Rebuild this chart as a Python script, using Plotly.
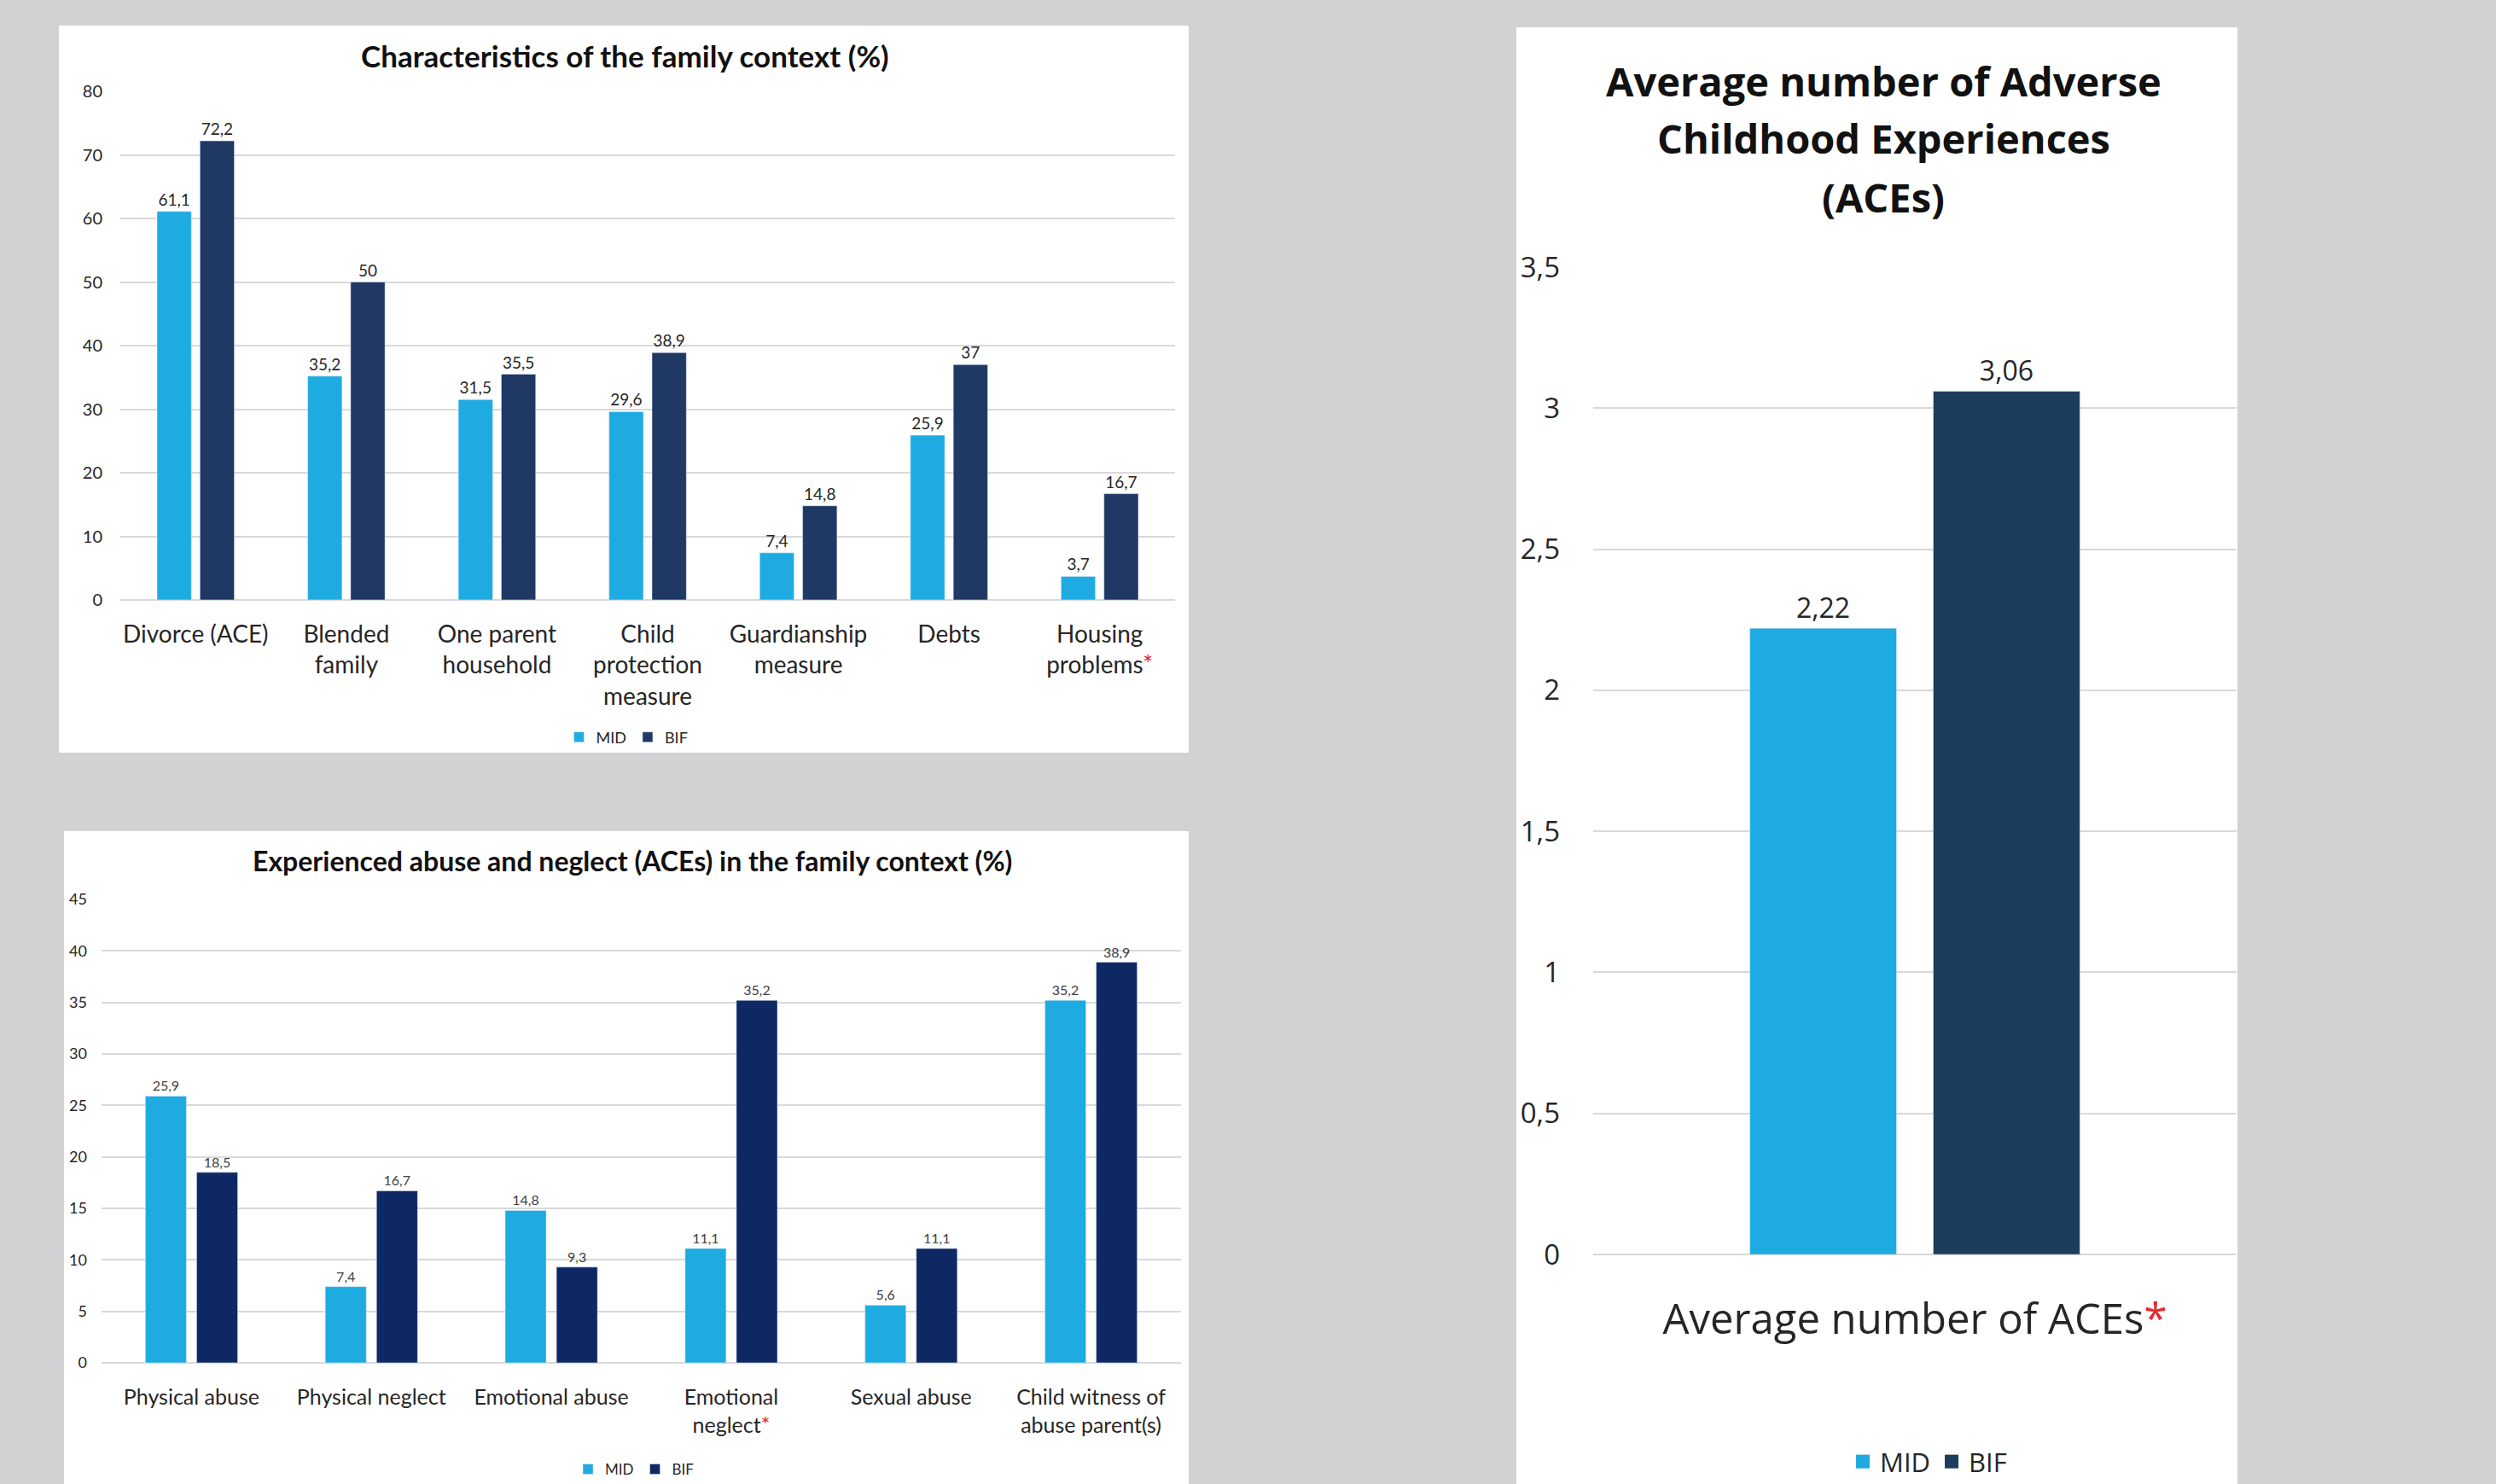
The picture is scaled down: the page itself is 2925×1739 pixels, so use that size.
import plotly.graph_objects as go

# ---------------- data ----------------
family_categories = ["Divorce (ACE)", "Blended family", "One parent household",
                     "Child protection measure", "Guardianship measure", "Debts",
                     "Housing problems"]
family_ticktext = ["Divorce (ACE)", "Blended<br>family", "One parent<br>household",
                   "Child<br>protection<br>measure", "Guardianship<br>measure", "Debts",
                   "Housing<br>problems<span style='color:#e8262b'>*</span>"]
family_mid = [61.1, 35.2, 31.5, 29.6, 7.4, 25.9, 3.7]
family_bif = [72.2, 50, 35.5, 38.9, 14.8, 37, 16.7]

abuse_categories = ["Physical abuse", "Physical neglect", "Emotional abuse",
                    "Emotional neglect", "Sexual abuse", "Child witness of abuse parent(s)"]
abuse_ticktext = ["Physical abuse", "Physical neglect", "Emotional abuse",
                  "Emotional<br>neglect<span style='color:#e8262b'>*</span>", "Sexual abuse",
                  "Child witness of<br>abuse parent(s)"]
abuse_mid = [25.9, 7.4, 14.8, 11.1, 5.6, 35.2]
abuse_bif = [18.5, 16.7, 9.3, 35.2, 11.1, 38.9]

aces_categories = ["Average number of ACEs"]
aces_ticktext = ["Average number of ACEs<span style='color:#e8262b'>*</span>"]
aces_mid = [2.22]
aces_bif = [3.06]

# ---------------- style ----------------
W, H = 2925, 1739
BG = "#d1d2d4"
MID = "#1eabe2"
BIF1 = "#1f3864"
BIF2 = "#0d2862"
BIF3 = "#1d3d5e"
GRID = "#d9d9d9"
TXT = "#262626"
FONT = "Lato"
FONT3 = "Open Sans"


def fmt(v):
    return f"{v:g}".replace(".", ",")


def px_x(p):
    return p / W


def px_y(p):
    return 1 - p / H


fig = go.Figure()

# Panel 1
fig.add_trace(go.Bar(x=family_categories, y=family_mid, name="MID", marker_color=MID,
                     text=[fmt(v) for v in family_mid], textposition="outside",
                     textfont=dict(size=19, color=TXT, family=FONT), cliponaxis=False,
                     xaxis="x", yaxis="y", legend="legend"))
fig.add_trace(go.Bar(x=family_categories, y=family_bif, name="BIF", marker_color=BIF1,
                     text=[fmt(v) for v in family_bif], textposition="outside",
                     textfont=dict(size=19, color=TXT, family=FONT), cliponaxis=False,
                     xaxis="x", yaxis="y", legend="legend"))
# Panel 2
fig.add_trace(go.Bar(x=abuse_categories, y=abuse_mid, name="MID", marker_color=MID,
                     text=[fmt(v) for v in abuse_mid], textposition="outside",
                     textfont=dict(size=16, color="#404040", family=FONT), cliponaxis=False,
                     xaxis="x2", yaxis="y2", legend="legend2"))
fig.add_trace(go.Bar(x=abuse_categories, y=abuse_bif, name="BIF", marker_color=BIF2,
                     text=[fmt(v) for v in abuse_bif], textposition="outside",
                     textfont=dict(size=16, color="#404040", family=FONT), cliponaxis=False,
                     xaxis="x2", yaxis="y2", legend="legend2"))
# Panel 3
fig.add_trace(go.Bar(x=aces_categories, y=aces_mid, name="MID", marker_color=MID,
                     text=[fmt(v) for v in aces_mid], textposition="outside",
                     textfont=dict(size=32, color=TXT, family=FONT3), cliponaxis=False,
                     xaxis="x3", yaxis="y3", showlegend=False))
fig.add_trace(go.Bar(x=aces_categories, y=aces_bif, name="BIF", marker_color=BIF3,
                     text=[fmt(v) for v in aces_bif], textposition="outside",
                     textfont=dict(size=32, color=TXT, family=FONT3), cliponaxis=False,
                     xaxis="x3", yaxis="y3", showlegend=False))
fig.add_trace(go.Scatter(x=[None], y=[None], mode="markers", name="MID",
                         marker=dict(symbol="square", size=22, color=MID),
                         xaxis="x3", yaxis="y3", legend="legend3"))
fig.add_trace(go.Scatter(x=[None], y=[None], mode="markers", name="BIF",
                         marker=dict(symbol="square", size=22, color=BIF3),
                         xaxis="x3", yaxis="y3", legend="legend3"))

# white panels
shapes = []
for (x0, y0, x1, y1) in [(69, 30, 1393, 882), (75, 974, 1393, 1739), (1777, 32, 2622, 1739)]:
    shapes.append(dict(type="rect", xref="paper", yref="paper", x0=px_x(x0), x1=px_x(x1),
                       y0=px_y(y1), y1=px_y(y0), fillcolor="white", line_width=0, layer="below"))

yax_common = dict(showgrid=True, gridcolor=GRID, gridwidth=2, zeroline=True, zerolinecolor=GRID,
                  zerolinewidth=2, showline=False, ticks="", fixedrange=True, automargin=False)
xax_common = dict(showgrid=False, zeroline=False, showline=False, ticks="", fixedrange=True,
                  automargin=False)

title_font = dict(color="#111111", family=FONT)
title3_lines = ["Average number of Adverse", "Childhood Experiences", "(ACEs)"]
title3_y = [95, 162, 231]

annotations = [
    dict(text="<b>Characteristics of the family context (%)</b>", xref="paper", yref="paper",
         x=px_x(732), y=px_y(65), xanchor="center", yanchor="middle", showarrow=False,
         font=dict(size=35, **title_font)),
    dict(text="<b>Experienced abuse and neglect (ACEs) in the family context (%)</b>",
         xref="paper", yref="paper", x=px_x(741), y=px_y(1009), xanchor="center",
         yanchor="middle", showarrow=False, font=dict(size=32, **title_font)),
]
for line, yy in zip(title3_lines, title3_y):
    annotations.append(dict(text=f"<b>{line}</b>", xref="paper", yref="paper",
                            x=px_x(2207), y=px_y(yy), xanchor="center", yanchor="middle",
                            showarrow=False, font=dict(size=47, color="#111111", family=FONT3)))

fig.update_layout(
    width=W, height=H, margin=dict(l=0, r=0, t=0, b=0, autoexpand=False),
    paper_bgcolor=BG, plot_bgcolor="rgba(0,0,0,0)",
    separators=",.",
    barmode="group", bargap=0.43, bargroupgap=0.2,
    shapes=shapes,
    font=dict(family=FONT, color=TXT),
    xaxis=dict(domain=[px_x(141), px_x(1377)], anchor="y", tickmode="array",
               tickvals=family_categories, ticktext=family_ticktext,
               tickfont=dict(size=28, color=TXT, family=FONT), ticklabelstandoff=21, **xax_common),
    yaxis=dict(domain=[px_y(703), px_y(107)], anchor="x", range=[0, 80], dtick=10,
               tickfont=dict(size=20, color=TXT, family=FONT), ticklabelstandoff=20, **yax_common),
    xaxis2=dict(domain=[px_x(119), px_x(1384)], anchor="y2", tickmode="array",
                tickvals=abuse_categories, ticktext=abuse_ticktext,
                tickfont=dict(size=25, color=TXT, family=FONT), ticklabelstandoff=23, **xax_common),
    yaxis2=dict(domain=[px_y(1597), px_y(1054)], anchor="x2", range=[0, 45], dtick=5,
                tickfont=dict(size=18, color=TXT, family=FONT), ticklabelstandoff=16, **yax_common),
    xaxis3=dict(domain=[px_x(1867), px_x(2621)], anchor="y3", tickmode="array",
                tickvals=aces_categories, ticktext=aces_ticktext,
                tickfont=dict(size=49, color=TXT, family=FONT3), ticklabelstandoff=43, **xax_common),
    yaxis3=dict(domain=[px_y(1470), px_y(313)], anchor="x3", range=[0, 3.5], dtick=0.5,
                tickfont=dict(size=33, color=TXT, family=FONT3), ticklabelstandoff=38, **yax_common),
    legend=dict(orientation="h", x=px_x(735), y=px_y(864), xanchor="center", yanchor="middle",
                font=dict(size=18, color=TXT, family=FONT), bgcolor="rgba(0,0,0,0)",
                itemwidth=30),
    legend2=dict(orientation="h", x=px_x(744), y=px_y(1722), xanchor="center", yanchor="middle",
                 font=dict(size=17, color=TXT, family=FONT), bgcolor="rgba(0,0,0,0)",
                 itemwidth=30),
    legend3=dict(orientation="h", x=px_x(2260), y=px_y(1713), xanchor="center", yanchor="middle",
                 font=dict(size=31, color=TXT, family=FONT3), bgcolor="rgba(0,0,0,0)",
                 itemwidth=30),
    annotations=annotations,
)

fig.write_html("out.html")
